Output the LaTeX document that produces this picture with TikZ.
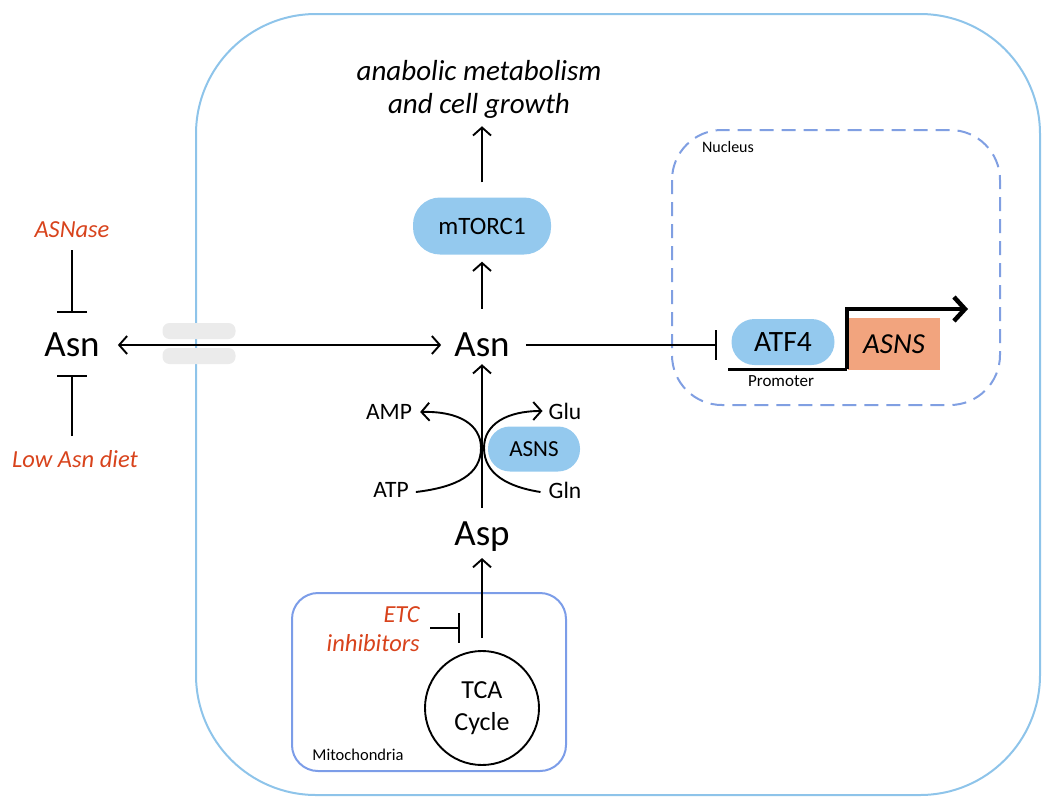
\documentclass[tikz,border=0pt]{standalone}
\usepackage{fontspec}
\setmainfont{Carlito}
\usetikzlibrary{arrows.meta}
\definecolor{cellblue}{HTML}{8EC4EA}
\definecolor{pillblue}{HTML}{94C9EE}
\definecolor{nucblue}{HTML}{809FE2}
\definecolor{mitoblue}{HTML}{7C9DE8}
\definecolor{inhred}{HTML}{D8431C}
\definecolor{salmonfill}{HTML}{F2A47E}
\definecolor{chanfill}{HTML}{EBEBEB}
\newcommand\fsz[1]{\fontsize{#1}{#1}\selectfont}
\begin{document}
\begin{tikzpicture}[x=1pt,y=-1pt,
  every node/.style={inner sep=0pt},
  conn/.style={line width=1.9pt},
  arr/.style={conn,-{Straight Barb[length=8pt,width=18pt,line width=1.9pt]}},
  darr/.style={conn,{Straight Barb[length=8pt,width=18pt,line width=1.9pt]}-{Straight Barb[length=8pt,width=18pt,line width=1.9pt]}},
  inh/.style={conn,-{Bar[width=30pt,line width=1.9pt]}},
  pill/.style={fill=pillblue,minimum width=#1,rounded corners=22pt},
  metab/.style={font=\fsz{37}},
  small/.style={font=\fsz{23.5}},
  redlab/.style={text=inhred,font=\fsz{24.5}\itshape},
]
\useasboundingbox (0,0) rectangle (1050,809);
% compartments
\draw[cellblue,line width=2pt,rounded corners=120pt] (196,14) rectangle (1040,795);
\draw[nucblue,line width=2pt,dashed,dash pattern=on 14pt off 8pt,rounded corners=50pt] (672,130) rectangle (1000,405);
\draw[mitoblue,line width=2pt,rounded corners=26pt] (292,593) rectangle (566,771);
\node[font=\fsz{16}] (nuclab) at (728,147) {Nucleus};
\node[font=\fsz{16.5}] (mitolab) at (358,755) {Mitochondria};
% channel
\node[fill=chanfill,rounded corners=7pt,minimum width=73pt,minimum height=16pt] (ch1) at (199,331) {};
\node[fill=chanfill,rounded corners=7pt,minimum width=73pt,minimum height=16pt] (ch2) at (199,356) {};
% metabolites
\node[metab] (asnL) at (72,345) {Asn};
\node[metab] (asnC) at (482,345) {Asn};
\node[metab] (asp) at (482,537) {Asp};
\node[align=center,font=\fsz{29}\itshape] (growth) at (479,89) {anabolic metabolism\\[4pt]and cell growth};
\node[pill=138pt,minimum height=57pt,rounded corners=27pt,font=\fsz{25}] (mtor) at (482,226) {mTORC1};
\node[pill=92pt,minimum height=45pt,font=\fsz{23}] (asnsE) at (534,449) {ASNS};
\node[pill=103pt,minimum height=46pt,rounded corners=23pt,font=\fsz{29.5}] (atf4) at (783,342) {ATF4};
\node[fill=salmonfill,minimum width=92pt,minimum height=52pt,font=\fsz{29}\itshape] (gene) at (894,344) {ASNS};
\node[font=\fsz{17}] (prom) at (781,381) {Promoter};
\node[draw,circle,line width=1.9pt,minimum size=114pt,align=center,font=\fsz{26}] (tca) at (482,708) {TCA\\[6pt]Cycle};
% inhibitors
\node[redlab] (asnase) at (72,230) {ASNase};
\node[redlab] (lowdiet) at (75,459) {Low Asn diet};
\node[redlab,anchor=east,align=right] (etc) at (420,629) {ETC\\[5pt]inhibitors};
% cofactors
\node[small] (amp) at (389,412) {AMP};
\node[small] (atp) at (391,490) {ATP};
\node[small] (glu) at (565,411) {Glu};
\node[small] (gln) at (565,490) {Gln};
% connectors
\draw[darr,shorten <=18pt,shorten >=13pt] (asnL) -- (asnC);
\draw[arr,shorten <=24pt,shorten >=7pt] (asnC.north) -- (asnC.north |- mtor.south);
\draw[arr,shorten <=15pt,shorten >=8pt] (mtor.north) -- (mtor.north |- growth.south);
\draw[inh,shorten <=16pt,shorten >=14pt] (asnC.east) -- (atf4.west |- asnC.east);
\draw[inh,shorten <=12pt,shorten >=20pt] (asnase.south) -- (asnL.north);
\draw[inh,shorten <=14pt,shorten >=18pt] (lowdiet.north -| asnL) -- (asnL.south);
\draw[arr,shorten <=14pt,shorten >=7pt] (asp.north) -- (asnC.south);
\draw[arr,shorten <=12pt,shorten >=6pt] (tca.north) -- (asp.south);
\coordinate (etcend) at (460,628);
\draw[inh] (etc.east |- etcend) ++(10pt,0) -- (etcend);
\coordinate (xl) at (481,448);
\coordinate (xr) at (484,448);
\draw[arr] (atp.east) ++(7pt,-2pt) .. controls (458,487) and (481,474) .. (xl) .. controls (481,424) and (458,411) .. ([xshift=8pt]amp.east);
\draw[arr] (gln.west) ++(-8pt,-2pt) .. controls (508,487) and (484,474) .. (xr) .. controls (484,424) and (507,411) .. ([xshift=-6pt]glu.west);
% gene arrow
\coordinate (promstart) at (728,369);
\coordinate (tss) at (847,369);
\coordinate (tsstop) at (847,309);
\coordinate (geneend) at (968,309);
\draw[line width=3pt] (promstart) -- (tss);
\draw[line width=4.5pt,-{Straight Barb[length=11pt,width=24pt,line width=4.5pt]}] (tss) -- (tsstop) -- (geneend);
\end{tikzpicture}
\end{document}
